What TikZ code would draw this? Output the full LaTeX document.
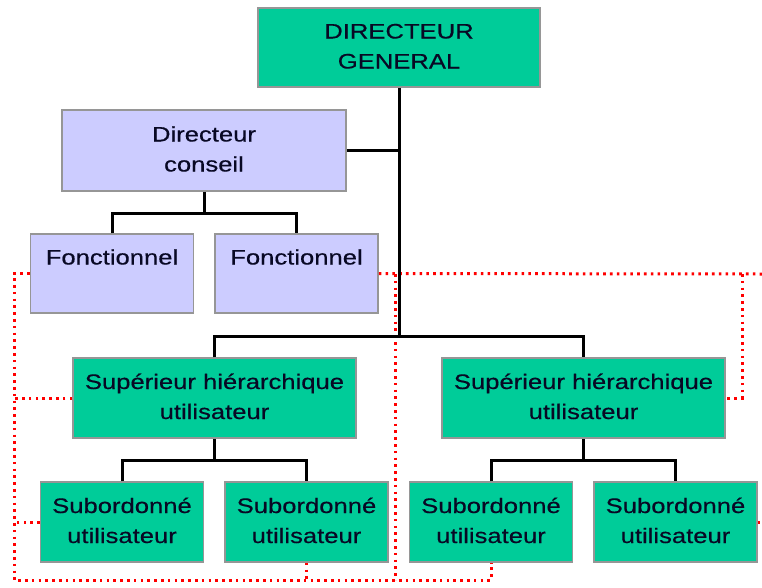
\documentclass[tikz,border=0pt]{standalone}
\usepackage{fontspec}
\setmainfont{Liberation Sans}[FakeStretch=1.22,FakeBold=0.4]
\begin{document}
\definecolor{boxgreen}{RGB}{0,204,153}
\definecolor{boxlilac}{RGB}{204,204,255}
\definecolor{boxedge}{RGB}{150,150,150}
\definecolor{labelink}{RGB}{8,8,36}
\definecolor{linkred}{RGB}{255,0,0}
\begin{tikzpicture}[x=1pt,y=-1pt,
  unit/.style={draw=boxedge,line width=1.5pt,rectangle,inner sep=0pt,
    align=center,text=labelink,font=\fontsize{21}{30}\selectfont},
  green/.style={unit,fill=boxgreen},
  lilac/.style={unit,fill=boxlilac},
  wide/.style={minimum width=283pt,minimum height=80pt},
  narrow/.style={minimum width=163pt,minimum height=80pt},
  tree/.style={line width=3pt,black},
  reddot/.style={line width=3pt,linkred,dash pattern=on 2.6pt off 4.2pt}]
\useasboundingbox (0,0) rectangle (762,587);

% boxes
\node[green,minimum width=282pt,minimum height=79pt] (dg) at (399,47.5) {\strut DIRECTEUR\\\strut GENERAL};
\node[lilac,minimum width=284pt,minimum height=81pt] (dc) at (204,150.5) {\strut Directeur\\\strut conseil};
\node[lilac,narrow,minimum height=79pt] (f1) at (112,273.5) {\strut Fonctionnel\\\strut};
\node[lilac,narrow,minimum height=79pt] (f2) at (296.5,273.5) {\strut Fonctionnel\\\strut};
\node[green,wide] (sup1) at (214.5,398) {\strut Supérieur hiérarchique\\\strut utilisateur};
\node[green,wide] (sup2) at (583.5,398) {\strut Supérieur hiérarchique\\\strut utilisateur};
\node[green,narrow] (sub1) at (122,522) {\strut Subordonné\\\strut utilisateur};
\node[green,narrow] (sub2) at (306.5,522) {\strut Subordonné\\\strut utilisateur};
\node[green,narrow] (sub3) at (491,522) {\strut Subordonné\\\strut utilisateur};
\node[green,narrow] (sub4) at (675.5,522) {\strut Subordonné\\\strut utilisateur};

% junction points
\coordinate (hub) at (399,336);
\coordinate (dcb) at (204,213);
\coordinate (s1b) at (214.5,460);
\coordinate (s2b) at (583.5,460);
\coordinate (lx) at (14,580);
\coordinate (vx) at (395,274);
\coordinate (rx) at (742,274);
\coordinate (redge) at (762,274);

% functional (dotted) links
\draw[reddot] (f1.west) -| (lx) -- (lx -| sub3.south) -- (sub3.south);
\draw[reddot] (sup1.west) -- (sup1.west -| lx);
\draw[reddot] (sub1.west) -- (sub1.west -| lx);
\draw[reddot] (sub2.south) -- (sub2.south |- lx);
\draw[reddot] (f2.east) -- (redge);
\draw[reddot] (vx) -- (vx |- lx);
\draw[reddot] (rx) |- (sup2.east);
\draw[reddot] (sub4.east) -- (sub4.east -| redge);

% hierarchy
\draw[tree] (dg.south) -- (hub);
\draw[tree] (dc.east) -- (dc.east -| dg.south);
\draw[tree] (sup1.north) |- (hub) -| (sup2.north);
\draw[tree] (dc.south) -- (dcb);
\draw[tree] (f1.north) |- (dcb) -| (f2.north);
\draw[tree] (sup1.south) -- (s1b);
\draw[tree] (sub1.north) |- (s1b) -| (sub2.north);
\draw[tree] (sup2.south) -- (s2b);
\draw[tree] (sub3.north) |- (s2b) -| (sub4.north);
\end{tikzpicture}
\end{document}
